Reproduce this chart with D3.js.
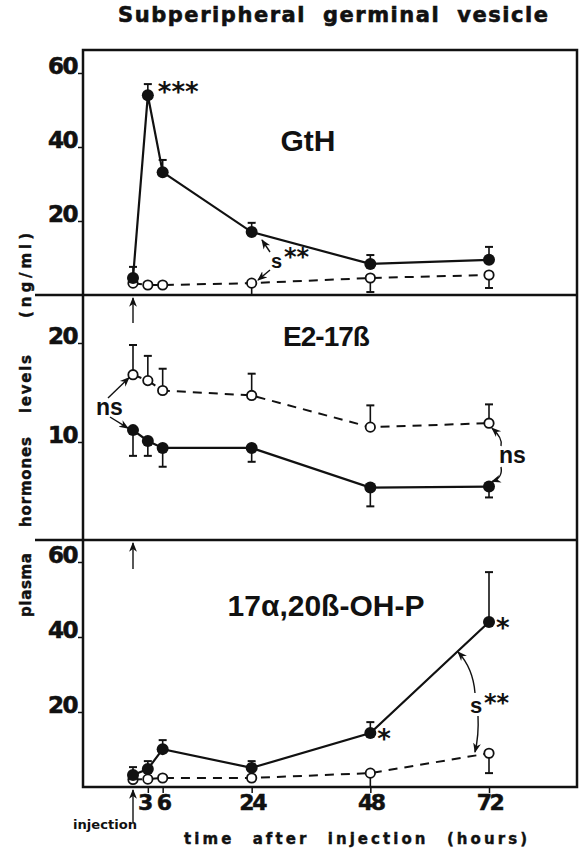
<!DOCTYPE html>
<html lang="en">
<head>
<meta charset="UTF-8">
<title>Subperipheral germinal vesicle</title>
<script src="https://cdn.jsdelivr.net/npm/d3@7"></script>
<style>
  body { margin: 0; background: #fff; }
  text { font-family: "Liberation Sans", Arial, sans-serif; font-weight: bold; fill: #111; }
</style>
</head>
<body>
<div id="chart"></div>
<script>
// hours after injection
const times = [0, 3, 6, 24, 48, 72]
const xTicks = [3, 6, 24, 48, 72]

// GtH (ng/ml)
const gthTreated = [4.6, 54, 33.2, 17, 8.4, 9.5]
const gthTreatedErr = [3, 3, 3.3, 2.5, 2.4, 3.5]
const gthControl = [3.2, 2.7, 2.7, 3.2, 4.6, 5.4]
const gthControlErr = [0, 0, 0, 3.2, 3.8, 3.5]

// E2-17B (ng/ml)
const e2Treated = [11.2, 10.1, 9.4, 9.4, 5.4, 5.5]
const e2TreatedErr = [2.6, 1.5, 1.9, 1.4, 1.9, 1.1]
const e2Control = [16.8, 16.2, 15.2, 14.7, 11.5, 11.9]
const e2ControlErr = [3, 2.5, 2.2, 2.2, 2.2, 1.9]

// 17a,20B-OH-P (ng/ml)
const ohpTreated = [3.2, 4.8, 10.1, 5.1, 14.4, 44]
const ohpTreatedErr = [2.1, 2.1, 2.4, 1.8, 2.9, 13.3]
const ohpControl = [2.0, 2.1, 2.4, 2.4, 3.7, 9.0]
const ohpControlErr = [0, 0, 0, 0, 3.7, 5.3]

const w = 583, h = 848
const left = 83, right = 577
const heavy = "'DejaVu Sans', sans-serif"

const svg = d3.select("#chart").append("svg")
  .attr("width", w).attr("height", h)

svg.append("defs").append("marker")
  .attr("id", "head")
  .attr("viewBox", "0 0 10 10")
  .attr("refX", 9).attr("refY", 5)
  .attr("markerWidth", 7).attr("markerHeight", 7)
  .attr("orient", "auto-start-reverse")
  .append("path").attr("d", "M0,1 L10,5 L0,9 L3,5 Z").attr("fill", "#111")

const x = d3.scaleLinear().domain([0, 72]).range([133, 489])

const panels = [
  { label: "GtH", lx: 308, ly: 151,
    y: d3.scaleLinear().domain([0, 60]).range([295, 73]), ticks: [20, 40, 60],
    treated: gthTreated, tErr: gthTreatedErr, tDir: 1,
    control: gthControl, cErr: gthControlErr, cDir: -1 },
  { label: "E2-17ß", lx: 326, ly: 346,
    y: d3.scaleLinear().domain([0, 20]).range([541, 343]), ticks: [10, 20],
    treated: e2Treated, tErr: e2TreatedErr, tDir: -1,
    control: e2Control, cErr: e2ControlErr, cDir: 1 },
  { label: "17\u03b1,20ß-OH-P", lx: 326, ly: 616,
    y: d3.scaleLinear().domain([0, 60]).range([787, 562]), ticks: [20, 40, 60],
    treated: ohpTreated, tErr: ohpTreatedErr, tDir: 1,
    control: ohpControl, cErr: ohpControlErr, cDir: -1 }
]

// frame and panel separators
svg.append("rect")
  .attr("x", left).attr("y", 50)
  .attr("width", right - left).attr("height", 787 - 50)
  .attr("fill", "none").attr("stroke", "#111").attr("stroke-width", 2.5)
;[295, 540].forEach(yy => {
  svg.append("line").attr("x1", 35).attr("x2", right)
    .attr("y1", yy).attr("y2", yy)
    .attr("stroke", "#111").attr("stroke-width", 2.5)
})

panels.forEach((p, pi) => {
  const g = svg.append("g")

  const yAxis = d3.axisLeft(p.y).tickValues(p.ticks).tickSize(5).tickPadding(1)
  const ax = g.append("g").attr("transform", `translate(${left},0)`).call(yAxis)
  ax.select(".domain").remove()
  ax.selectAll("line").attr("stroke", "#111").attr("stroke-width", 1.5)
  ax.selectAll("text")
    .attr("dy", "0em")
    .attr("fill", "#111")
    .attr("stroke", "#111").attr("stroke-width", 0.6)
    .style("font-family", heavy)
    .style("font-weight", "bold")
    .style("font-size", "23px")
    .style("letter-spacing", "-1.5px")

  g.append("text")
    .attr("x", p.lx).attr("y", p.ly)
    .attr("text-anchor", "middle")
    .style("font-size", pi === 1 ? "28px" : "30px")
    .style("letter-spacing", pi === 1 ? "-1px" : "0px")
    .text(p.label)

  const line = d3.line().x((d, i) => x(times[i])).y(d => p.y(d))

  // control (open) line
  g.append("path").datum(p.control)
    .attr("d", line).attr("fill", "none")
    .attr("stroke", "#111").attr("stroke-width", 2)
    .attr("stroke-dasharray", "9,7")

  // treated (filled) line
  g.append("path").datum(p.treated)
    .attr("d", line).attr("fill", "none")
    .attr("stroke", "#111").attr("stroke-width", 2.2)

  // error bars
  const bars = (vals, errs, dir) => {
    vals.forEach((v, i) => {
      if (!errs[i]) return
      const y0 = p.y(v), y1 = p.y(v + dir * errs[i])
      g.append("line").attr("x1", x(times[i])).attr("x2", x(times[i]))
        .attr("y1", y0).attr("y2", y1).attr("stroke", "#111").attr("stroke-width", 1.6)
      g.append("line").attr("x1", x(times[i]) - 4).attr("x2", x(times[i]) + 4)
        .attr("y1", y1).attr("y2", y1).attr("stroke", "#111").attr("stroke-width", 2)
    })
  }
  bars(p.control, p.cErr, p.cDir)
  bars(p.treated, p.tErr, p.tDir)

  g.selectAll(".open").data(p.control).enter().append("circle")
    .attr("cx", (d, i) => x(times[i])).attr("cy", d => p.y(d))
    .attr("r", 4.7).attr("fill", "#fff").attr("stroke", "#111").attr("stroke-width", 1.8)

  g.selectAll(".filled").data(p.treated).enter().append("circle")
    .attr("cx", (d, i) => x(times[i])).attr("cy", d => p.y(d))
    .attr("r", 6).attr("fill", "#111")
})

// arrows
const arrow = (x1, y1, x2, y2, curve) => {
  const d = curve
    ? `M${x1},${y1} Q${curve[0]},${curve[1]} ${x2},${y2}`
    : `M${x1},${y1} L${x2},${y2}`
  svg.append("path").attr("d", d).attr("fill", "none")
    .attr("stroke", "#111").attr("stroke-width", 1.4)
    .attr("marker-end", "url(#head)")
}
arrow(x(0), 323, x(0), 298)
arrow(x(0), 569, x(0), 543)
arrow(x(0), 822, x(0), 790)

// x axis
const xAxis = d3.axisBottom(x).tickValues(xTicks).tickSize(6).tickPadding(1)
const xa = svg.append("g").attr("transform", "translate(0,787)").call(xAxis)
xa.select(".domain").remove()
xa.selectAll("line").attr("stroke", "#111").attr("stroke-width", 1.5)
xa.selectAll("text")
  .attr("fill", "#111")
  .attr("stroke", "#111").attr("stroke-width", 0.5)
  .style("font-family", heavy)
  .style("font-weight", "bold")
  .style("font-size", "22px")
  .style("letter-spacing", "-2.5px")
  .attr("dx", d => d === 3 ? "-4px" : "0px")

const heavyText = (t, xx, yy, size) => svg.append("text")
  .attr("x", xx).attr("y", yy)
  .style("font-family", heavy).style("font-weight", "bold")
  .style("font-size", size + "px").text(t)

heavyText("injection", 73, 829, 12)
  .attr("textLength", 64).attr("lengthAdjust", "spacingAndGlyphs")

heavyText("time after injection (hours)", 184, 844, 15)
  .attr("textLength", 343).attr("lengthAdjust", "spacing")
  .attr("stroke", "#111").attr("stroke-width", 0.4)
  .style("word-spacing", "10px")

// title
heavyText("Subperipheral germinal vesicle", 118, 22, 21)
  .attr("textLength", 430).attr("lengthAdjust", "spacing")
  .attr("stroke", "#111").attr("stroke-width", 0.6)
  .style("word-spacing", "8px")

// y label, one word at a time (rotated)
const yWords = [["plasma", 553, 617], ["hormones", 437, 527], ["levels", 355, 413], ["(ng/ml)", 233, 318]]
yWords.forEach(([t, y0, y1]) => {
  svg.append("text")
    .attr("transform", `translate(31,${y1}) rotate(-90)`)
    .attr("textLength", y1 - y0).attr("lengthAdjust", "spacing")
    .attr("stroke", "#111").attr("stroke-width", 0.4)
    .style("font-family", heavy).style("font-weight", "bold")
    .style("font-size", "15px").text(t)
})

// significance annotations
const p1 = panels[0], p2 = panels[1], p3 = panels[2]
const note = (t, xx, yy, size) => svg.append("text").attr("x", xx).attr("y", yy)
  .style("font-size", size + "px").text(t)
const stars = (t, xx, cy, size) => heavyText(t, xx, cy + size * 0.5, size)
  .style("letter-spacing", "0px")

stars("***", x(3) + 10, 88, 26)
note("s", 271, 268, 20)
stars("**", 284, 253, 24)
arrow(270, 252, 262, 240)
arrow(270, 270, 258, 280)

note("ns", 96, 415, 23)
arrow(108, 398, x(0) - 4, p2.y(e2Control[0]) + 3)
arrow(110, 417, x(0) - 5, p2.y(e2Treated[0]) - 2)
note("ns", 499, 463, 23)
arrow(501, 446, x(72) + 3, p2.y(e2Control[5]) + 5, [503, 438])
arrow(501, 467, x(72) + 3, p2.y(e2Treated[5]) - 5, [503, 478])

stars("*", x(48) + 7, p3.y(14.4) + 2, 26)
stars("*", x(72) + 7, p3.y(44) + 2, 26)
note("s", 470, 713, 22)
stars("**", 484, 699, 24)
arrow(475, 693, 458, 652, [473, 668])
arrow(478, 716, 475, 752, [479, 735])
</script>
</body>
</html>
